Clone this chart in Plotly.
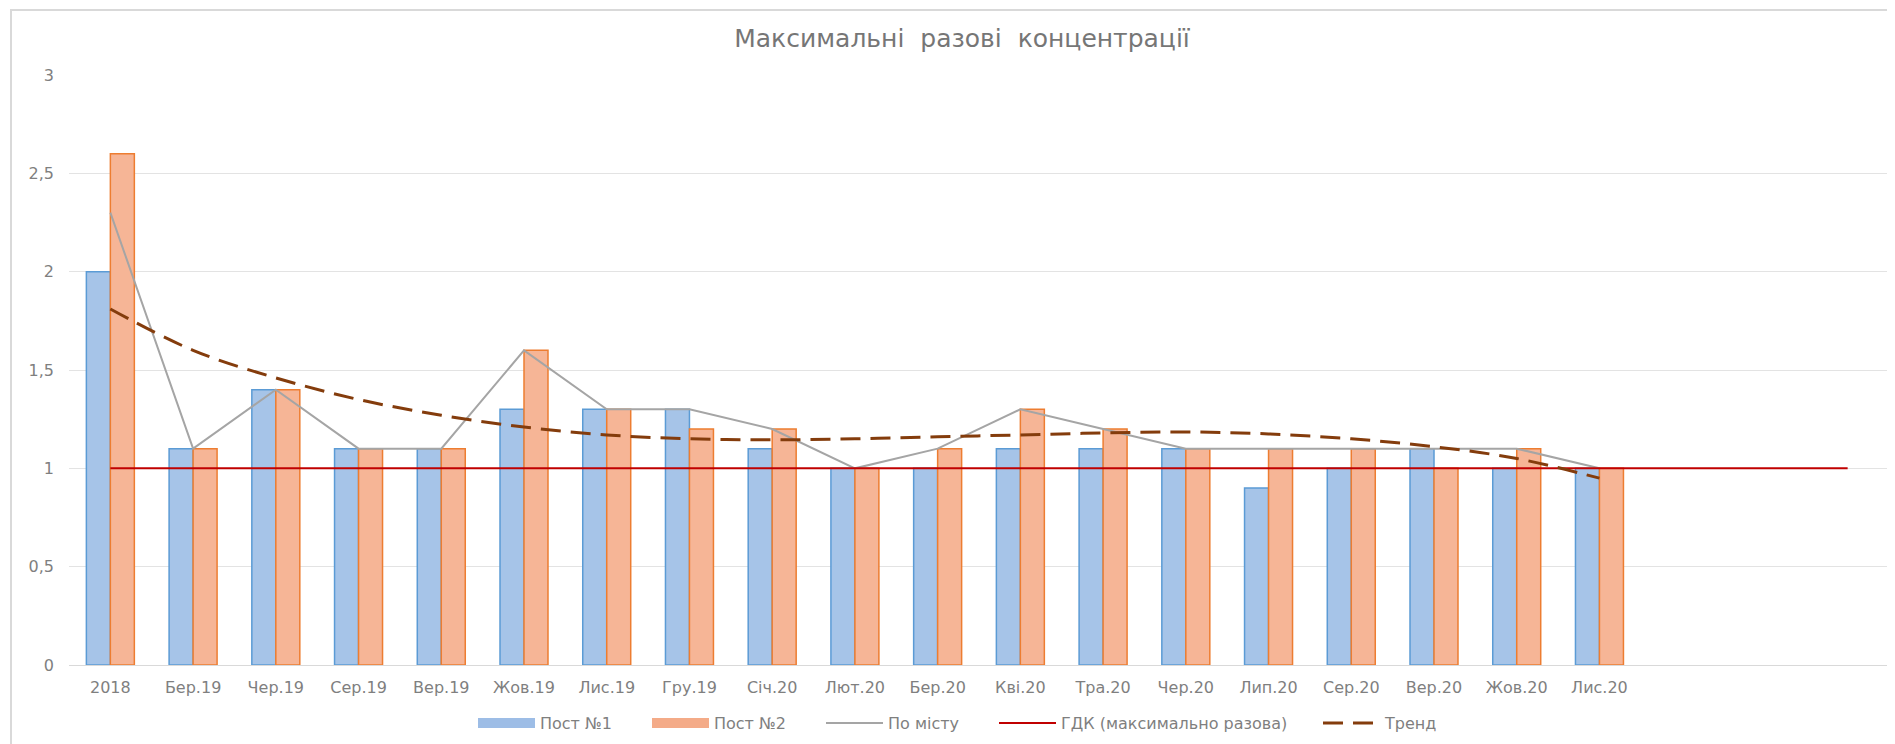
import plotly.graph_objects as go

# ---- data ----
categories = ["2018", "Бер.19", "Чер.19", "Сер.19", "Вер.19", "Жов.19", "Лис.19", "Гру.19",
              "Січ.20", "Лют.20", "Бер.20", "Кві.20", "Тра.20", "Чер.20", "Лип.20", "Сер.20",
              "Вер.20", "Жов.20", "Лис.20"]
extra_empty_slots = 3

post1 = [2.0, 1.1, 1.4, 1.1, 1.1, 1.3, 1.3, 1.3, 1.1, 1.0, 1.0, 1.1, 1.1, 1.1, 0.9, 1.0, 1.1, 1.0, 1.0]
post2 = [2.6, 1.1, 1.4, 1.1, 1.1, 1.6, 1.3, 1.2, 1.2, 1.0, 1.1, 1.3, 1.2, 1.1, 1.1, 1.1, 1.0, 1.1, 1.0]
city = [2.3, 1.1, 1.4, 1.1, 1.1, 1.6, 1.3, 1.3, 1.2, 1.0, 1.1, 1.3, 1.2, 1.1, 1.1, 1.1, 1.1, 1.1, 1.0]
gdk = [1.0] * (len(categories) + extra_empty_slots)
trend = [1.81, 1.60, 1.46, 1.35, 1.27, 1.21, 1.17, 1.15, 1.145, 1.15, 1.16, 1.17, 1.18,
         1.185, 1.175, 1.15, 1.11, 1.05, 0.95]

y_ticks = [0, 0.5, 1, 1.5, 2, 2.5, 3]

# ---- layout constants (page body adds 8px offset) ----
OFF = 8
W, H = 1895 - OFF, 744 - OFF
PL, PR, PT, PB = 69 - OFF, 1889 - OFF, 75 - OFF, 665 - OFF
FONT = "DejaVu Sans"
TXT = "#7f7f7f"
ITEMW = 57

idx = list(range(len(categories)))
idx_all = list(range(len(gdk)))

BLUE_FILL, BLUE_LINE = "#a6c4e8", "#5b9bd5"
ORANGE_FILL, ORANGE_LINE = "#f6b596", "#ed7d31"

fig = go.Figure()
fig.add_trace(go.Bar(x=idx, y=post1, name="Пост №1", showlegend=False,
                     marker=dict(color=BLUE_FILL, line=dict(color=BLUE_LINE, width=1.5))))
fig.add_trace(go.Bar(x=idx, y=post2, name="Пост №2", showlegend=False,
                     marker=dict(color=ORANGE_FILL, line=dict(color=ORANGE_LINE, width=1.5))))
# legend entries for the bars (wide swatches like the original)
fig.add_trace(go.Scatter(x=[None], y=[None], name="Пост №1", mode="lines", legend="legend",
                         line=dict(color="#9dbde6", width=10), hoverinfo="skip"))
fig.add_trace(go.Scatter(x=[None], y=[None], name="Пост №2", mode="lines", legend="legend2",
                         line=dict(color="#f4ab88", width=10), hoverinfo="skip"))
fig.add_trace(go.Scatter(x=idx, y=city, name="По місту", mode="lines", legend="legend3",
                         line=dict(color="#a5a5a5", width=2)))
fig.add_trace(go.Scatter(x=idx_all, y=gdk, name="ГДК (максимально разова)", mode="lines",
                         legend="legend4", line=dict(color="#c00000", width=2)))
fig.add_trace(go.Scatter(x=idx, y=trend, name="Тренд", mode="lines", legend="legend5",
                         line=dict(color="#843c0c", width=3, dash="20px,10px", shape="spline")))

# legend text start positions in the reference (page px)
legend_text_x = [548, 722, 896, 1069, 1393]
legend_y_px = 723


def mk_legend(tx):
    return dict(orientation="h", xref="container", yref="container",
                x=(tx - OFF - 18 - ITEMW) / W, xanchor="left",
                y=1 - (legend_y_px - OFF) / H, yanchor="middle", itemwidth=ITEMW,
                font=dict(family=FONT, size=16, color=TXT), bgcolor="rgba(0,0,0,0)")


fig.update_layout(
    width=W, height=H,
    margin=dict(l=PL, r=W - PR, t=PT, b=H - PB),
    paper_bgcolor="white", plot_bgcolor="white",
    separators=", ",
    barmode="group", bargap=0.42, bargroupgap=0,
    font=dict(family=FONT, size=16, color=TXT),
    title=dict(text="Максимальні  разові  концентрації", x=(962 - OFF) / W, xanchor="center",
               y=1 - (38 - OFF) / H, yanchor="middle", xref="container", yref="container",
               font=dict(family=FONT, size=25, color="#767676")),
    legend=mk_legend(legend_text_x[0]),
    legend2=mk_legend(legend_text_x[1]),
    legend3=mk_legend(legend_text_x[2]),
    legend4=mk_legend(legend_text_x[3]),
    legend5=mk_legend(legend_text_x[4]),
    showlegend=True,
)
fig.update_xaxes(range=[-0.5, len(gdk) - 0.5], tickmode="array", tickvals=idx, ticktext=categories,
                 showgrid=False, zeroline=False, showline=True, linecolor="#d9d9d9", linewidth=1,
                 ticks="", ticklabelstandoff=8, tickfont=dict(family=FONT, size=16, color=TXT))
fig.update_yaxes(range=[0, 3], tickmode="array", tickvals=y_ticks, showgrid=True,
                 gridcolor="#e3e3e3", gridwidth=1, zeroline=False, showline=False,
                 ticks="", ticklabelstandoff=14, tickfont=dict(family=FONT, size=16, color=TXT))

# chart-area border
pw, ph = PR - PL, PB - PT
fig.add_shape(type="rect", xref="paper", yref="paper",
              x0=(11 - OFF - PL) / pw, x1=(W + 20 - PL) / pw,
              y0=(PB - (H + 20)) / ph, y1=(PB - (10 - OFF)) / ph,
              line=dict(color="#d9d9d9", width=2), fillcolor="rgba(0,0,0,0)", layer="below")

fig.write_html("out.html")
